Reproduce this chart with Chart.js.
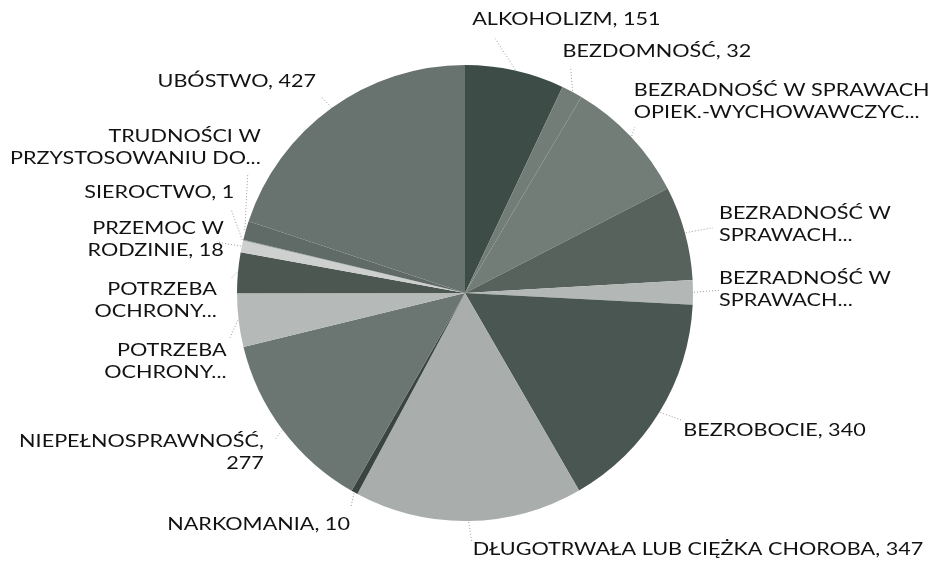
<!DOCTYPE html>
<html>
<head>
<meta charset="utf-8">
<script src="https://cdn.jsdelivr.net/npm/chart.js@4/dist/chart.umd.min.js"></script>
<style>
  html, body { margin: 0; padding: 0; background: #fff; }
  #wrap { width: 938px; height: 567px; position: relative; }
</style>
</head>
<body>
<div id="wrap"><canvas id="pieChart" width="938" height="567"></canvas></div>
<script>
// categories (as shown on the labels, wrapped lines)
const categories = [
  ["ALKOHOLIZM, 151"],
  ["BEZDOMNOŚĆ, 32"],
  ["BEZRADNOŚĆ W SPRAWACH", "OPIEK.-WYCHOWAWCZYC..."],
  ["BEZRADNOŚĆ W", "SPRAWACH..."],
  ["BEZRADNOŚĆ W", "SPRAWACH..."],
  ["BEZROBOCIE, 340"],
  ["DŁUGOTRWAŁA LUB CIĘŻKA CHOROBA, 347"],
  ["NARKOMANIA, 10"],
  ["NIEPEŁNOSPRAWNOŚĆ,", "277"],
  ["POTRZEBA", "OCHRONY..."],
  ["POTRZEBA", "OCHRONY..."],
  ["PRZEMOC W", "RODZINIE, 18"],
  ["SIEROCTWO, 1"],
  ["TRUDNOŚCI W", "PRZYSTOSOWANIU DO..."],
  ["UBÓSTWO, 427"],
];
// values
const counts = [151, 32, 191, 143, 37, 340, 347, 10, 277, 81, 62, 18, 1, 29, 427];
// slice colours
const sliceColors = [
  "#3e4c47", "#737d78", "#737d78", "#57625d", "#b3b8b6",
  "#4a5651", "#a9aeac", "#3a4440", "#6b7571", "#b5b9b7",
  "#4c5752", "#cdd0cf", "#8a928e", "#606a66", "#68726e",
];

// label placement, relative to the point where the slice's mid line meets the rim:
// [text dx, text dy, align, leader end dx, leader end dy]
const labelPlacement = [
  [-43, -50, "left", -20, -31],
  [-10, -40, "left", -2, -24],
  [2, -46, "left", 3, -9],
  [33, -20, "left", 27, -5],
  [25, -14, "left", 25, -2],
  [23, 18, "left", 22, 8],
  [4, 27, "left", 3, 19],
  [-4, 31, "right", -3, 14],
  [-18, 11, "right", -6, 8],
  [-11, 30, "right", -8, 18],
  [-20, 17, "right", -6, 6],
  [-17, -18, "right", -24, -4],
  [-8, -48, "right", -11, -30],
  [16, -94, "right", 3, -57],
  [-15, -26, "right", -10, -11],
];

const outsideLabels = {
  id: "outsideLabels",
  afterDatasetsDraw(chart) {
    const ctx = chart.ctx;
    const arcs = chart.getDatasetMeta(0).data;
    ctx.save();
    ctx.font = "18px Lato";
    ctx.textBaseline = "middle";
    arcs.forEach(function (arc, i) {
      const p = arc.getProps(["x", "y", "startAngle", "endAngle", "outerRadius"], true);
      const mid = (p.startAngle + p.endAngle) / 2;
      const ax = p.x + Math.cos(mid) * (p.outerRadius + 1);
      const ay = p.y + Math.sin(mid) * (p.outerRadius + 1);
      const pl = labelPlacement[i];

      // leader line
      ctx.strokeStyle = "#9a9a9a";
      ctx.lineWidth = 1;
      ctx.setLineDash([1, 2]);
      ctx.beginPath();
      ctx.moveTo(ax, ay);
      ctx.lineTo(ax + pl[3], ay + pl[4]);
      ctx.stroke();
      ctx.setLineDash([]);

      // text (the original face is wider, so stretch it a bit)
      ctx.fillStyle = "#121212";
      ctx.textAlign = pl[2];
      categories[i].forEach(function (line, k) {
        ctx.save();
        ctx.translate(ax + pl[0], ay + pl[1] + k * 22);
        ctx.scale(1.2, 1);
        ctx.fillText(line, 0, 0);
        ctx.restore();
      });
    });
    ctx.restore();
  },
};

const pieCtx = document.getElementById("pieChart").getContext("2d");
const pieChart = new Chart(pieCtx, {
  type: "pie",
  data: {
    labels: categories.map(function (c) { return c.join(" "); }),
    datasets: [
      {
        data: counts,
        backgroundColor: sliceColors,
        borderWidth: 0,
      },
    ],
  },
  options: {
    responsive: false,
    animation: false,
    layout: { padding: { left: 237, right: 245, top: 65, bottom: 46 } },
    plugins: {
      legend: { display: false },
      tooltip: { enabled: false },
    },
  },
  plugins: [outsideLabels],
});
</script>
</body>
</html>
